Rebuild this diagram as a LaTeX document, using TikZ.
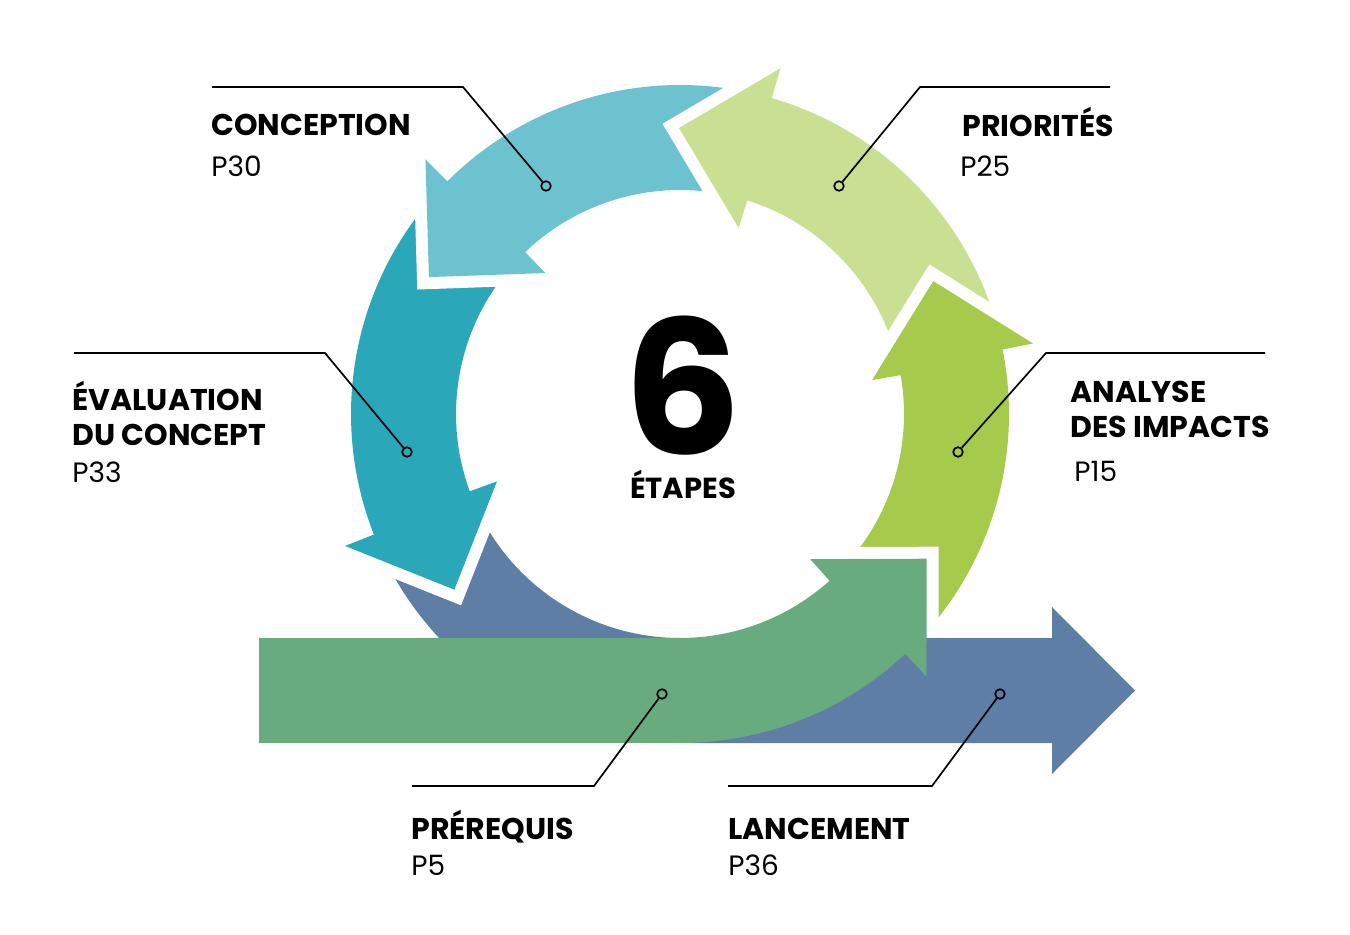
\documentclass[tikz,border=0pt]{standalone}
\usepackage{fontspec}
\setmainfont{Poppins}
\definecolor{cConc}{HTML}{6CC3CF}
\definecolor{cEval}{HTML}{2AA7B9}
\definecolor{cPrio}{HTML}{C9DF92}
\definecolor{cAna}{HTML}{A6CA4B}
\definecolor{cPre}{HTML}{67AB7E}
\definecolor{cLan}{HTML}{5F7EA6}
\newcommand\ringarrow[3]{% tail angle, base angle, colour
  \draw[gap] (#2:195) -- ({#2+17.7}:286) -- ({#2+1.3}:360) -- cycle;
  \fill[#3] (#1:329) arc[start angle=#1,end angle={#2+1.3},radius=164.5pt]
    -- ({#2+1.3}:360) -- ({#2+17.7}:286) -- (#2:195) -- (#2:224)
    arc[start angle=#2,end angle=#1,radius=112pt] -- cycle;}
\begin{document}
\begin{tikzpicture}[x=0.5pt,y=0.5pt,
  gap/.style={draw=white,line width=12pt,line join=miter},
  lead/.style={draw=black,line width=0.85pt},
  dot/.style={circle,draw=black,line width=0.85pt,minimum size=4.8pt,inner sep=0pt},
  ttl/.style={anchor=base west,inner sep=0pt,font=\bfseries\fontsize{15}{18}\selectfont},
  pg/.style={anchor=base west,inner sep=0pt,font=\fontsize{14}{17}\selectfont}]
\useasboundingbox[fill=white] (0,0) rectangle (1350,934);

\begin{scope}[shift={(680,520)}]
  % Lancement
  \fill[cLan] (207.9:329) arc[start angle=207.9,end angle=270,radius=164.5pt]
    -- (372,-329) -- (372,-360) -- (455,-276.5) -- (372,-193) -- (372,-224)
    -- (0,-224) arc[start angle=270,end angle=207.9,radius=112pt] -- cycle;
  % Evaluation, Conception, Priorites, Analyse
  \ringarrow{141.4}{200.2}{cEval}
  \ringarrow{80.2}{133.7}{cConc}
  \ringarrow{17.7}{72.5}{cPrio}
  \ringarrow{-40.3}{10}{cAna}
  % Prerequis
  \begin{scope}
    \clip (0,-222) rectangle (420,0);
    \draw[gap] (-48.1:195) -- (-30.4:286) -- (-46.8:360) -- cycle;
  \end{scope}
  \fill[cPre] (-421,-329) -- (-421,-224) -- (0,-224)
    arc[start angle=270,end angle=311.9,radius=112pt]
    -- (-48.1:195) -- (-30.4:286) -- (-46.8:360) -- (-46.8:329)
    arc[start angle=-46.8,end angle=-90,radius=164.5pt] -- cycle;
\end{scope}

% centre
\node[anchor=base,inner sep=0pt,font=\bfseries\fontsize{93}{93}\selectfont] (six) at (683,480) {6};
\node[anchor=base,inner sep=0pt,font=\bfseries\fontsize{14.5}{17}\selectfont] (etapes) at (683,436) {ÉTAPES};

% labels
\node[ttl] (tConc) at (211,798) {CONCEPTION};
\node[pg] (pConc) at (211,757) {P30};
\node[ttl] (tPrio) at (962,797) {PRIORITÉS};
\node[pg] (pPrio) at (960,757) {P25};
\node[ttl] (tEval1) at (72,524) {ÉVALUATION};
\node[ttl] (tEval2) at (72,489) {DU CONCEPT};
\node[pg] (pEval) at (72,452) {P33};
\node[ttl] (tAna1) at (1070,532) {ANALYSE};
\node[ttl] (tAna2) at (1070,497) {DES IMPACTS};
\node[pg] (pAna) at (1074,453) {P15};
\node[ttl] (tPre) at (411,95) {PRÉREQUIS};
\node[pg] (pPre) at (411,59) {P5};
\node[ttl] (tLan) at (728,95) {LANCEMENT};
\node[pg] (pLan) at (728,59) {P36};

% callouts
\node[dot] (dConc) at (546,748) {};
\coordinate (bConc) at (463,847); \coordinate (eConc) at (212,847);
\draw[lead] (dConc) -- (bConc) -- (eConc);
\node[dot] (dPrio) at (839,748) {};
\coordinate (bPrio) at (920,847); \coordinate (ePrio) at (1110,847);
\draw[lead] (dPrio) -- (bPrio) -- (ePrio);
\node[dot] (dEval) at (407,482) {};
\coordinate (bEval) at (325,581); \coordinate (eEval) at (74,581);
\draw[lead] (dEval) -- (bEval) -- (eEval);
\node[dot] (dAna) at (958,482) {};
\coordinate (bAna) at (1046,581); \coordinate (eAna) at (1265,581);
\draw[lead] (dAna) -- (bAna) -- (eAna);
\node[dot] (dPre) at (662,240) {};
\coordinate (bPre) at (594,148); \coordinate (ePre) at (412,148);
\draw[lead] (dPre) -- (bPre) -- (ePre);
\node[dot] (dLan) at (1000,240) {};
\coordinate (bLan) at (932,148); \coordinate (eLan) at (728,148);
\draw[lead] (dLan) -- (bLan) -- (eLan);
\end{tikzpicture}
\end{document}
